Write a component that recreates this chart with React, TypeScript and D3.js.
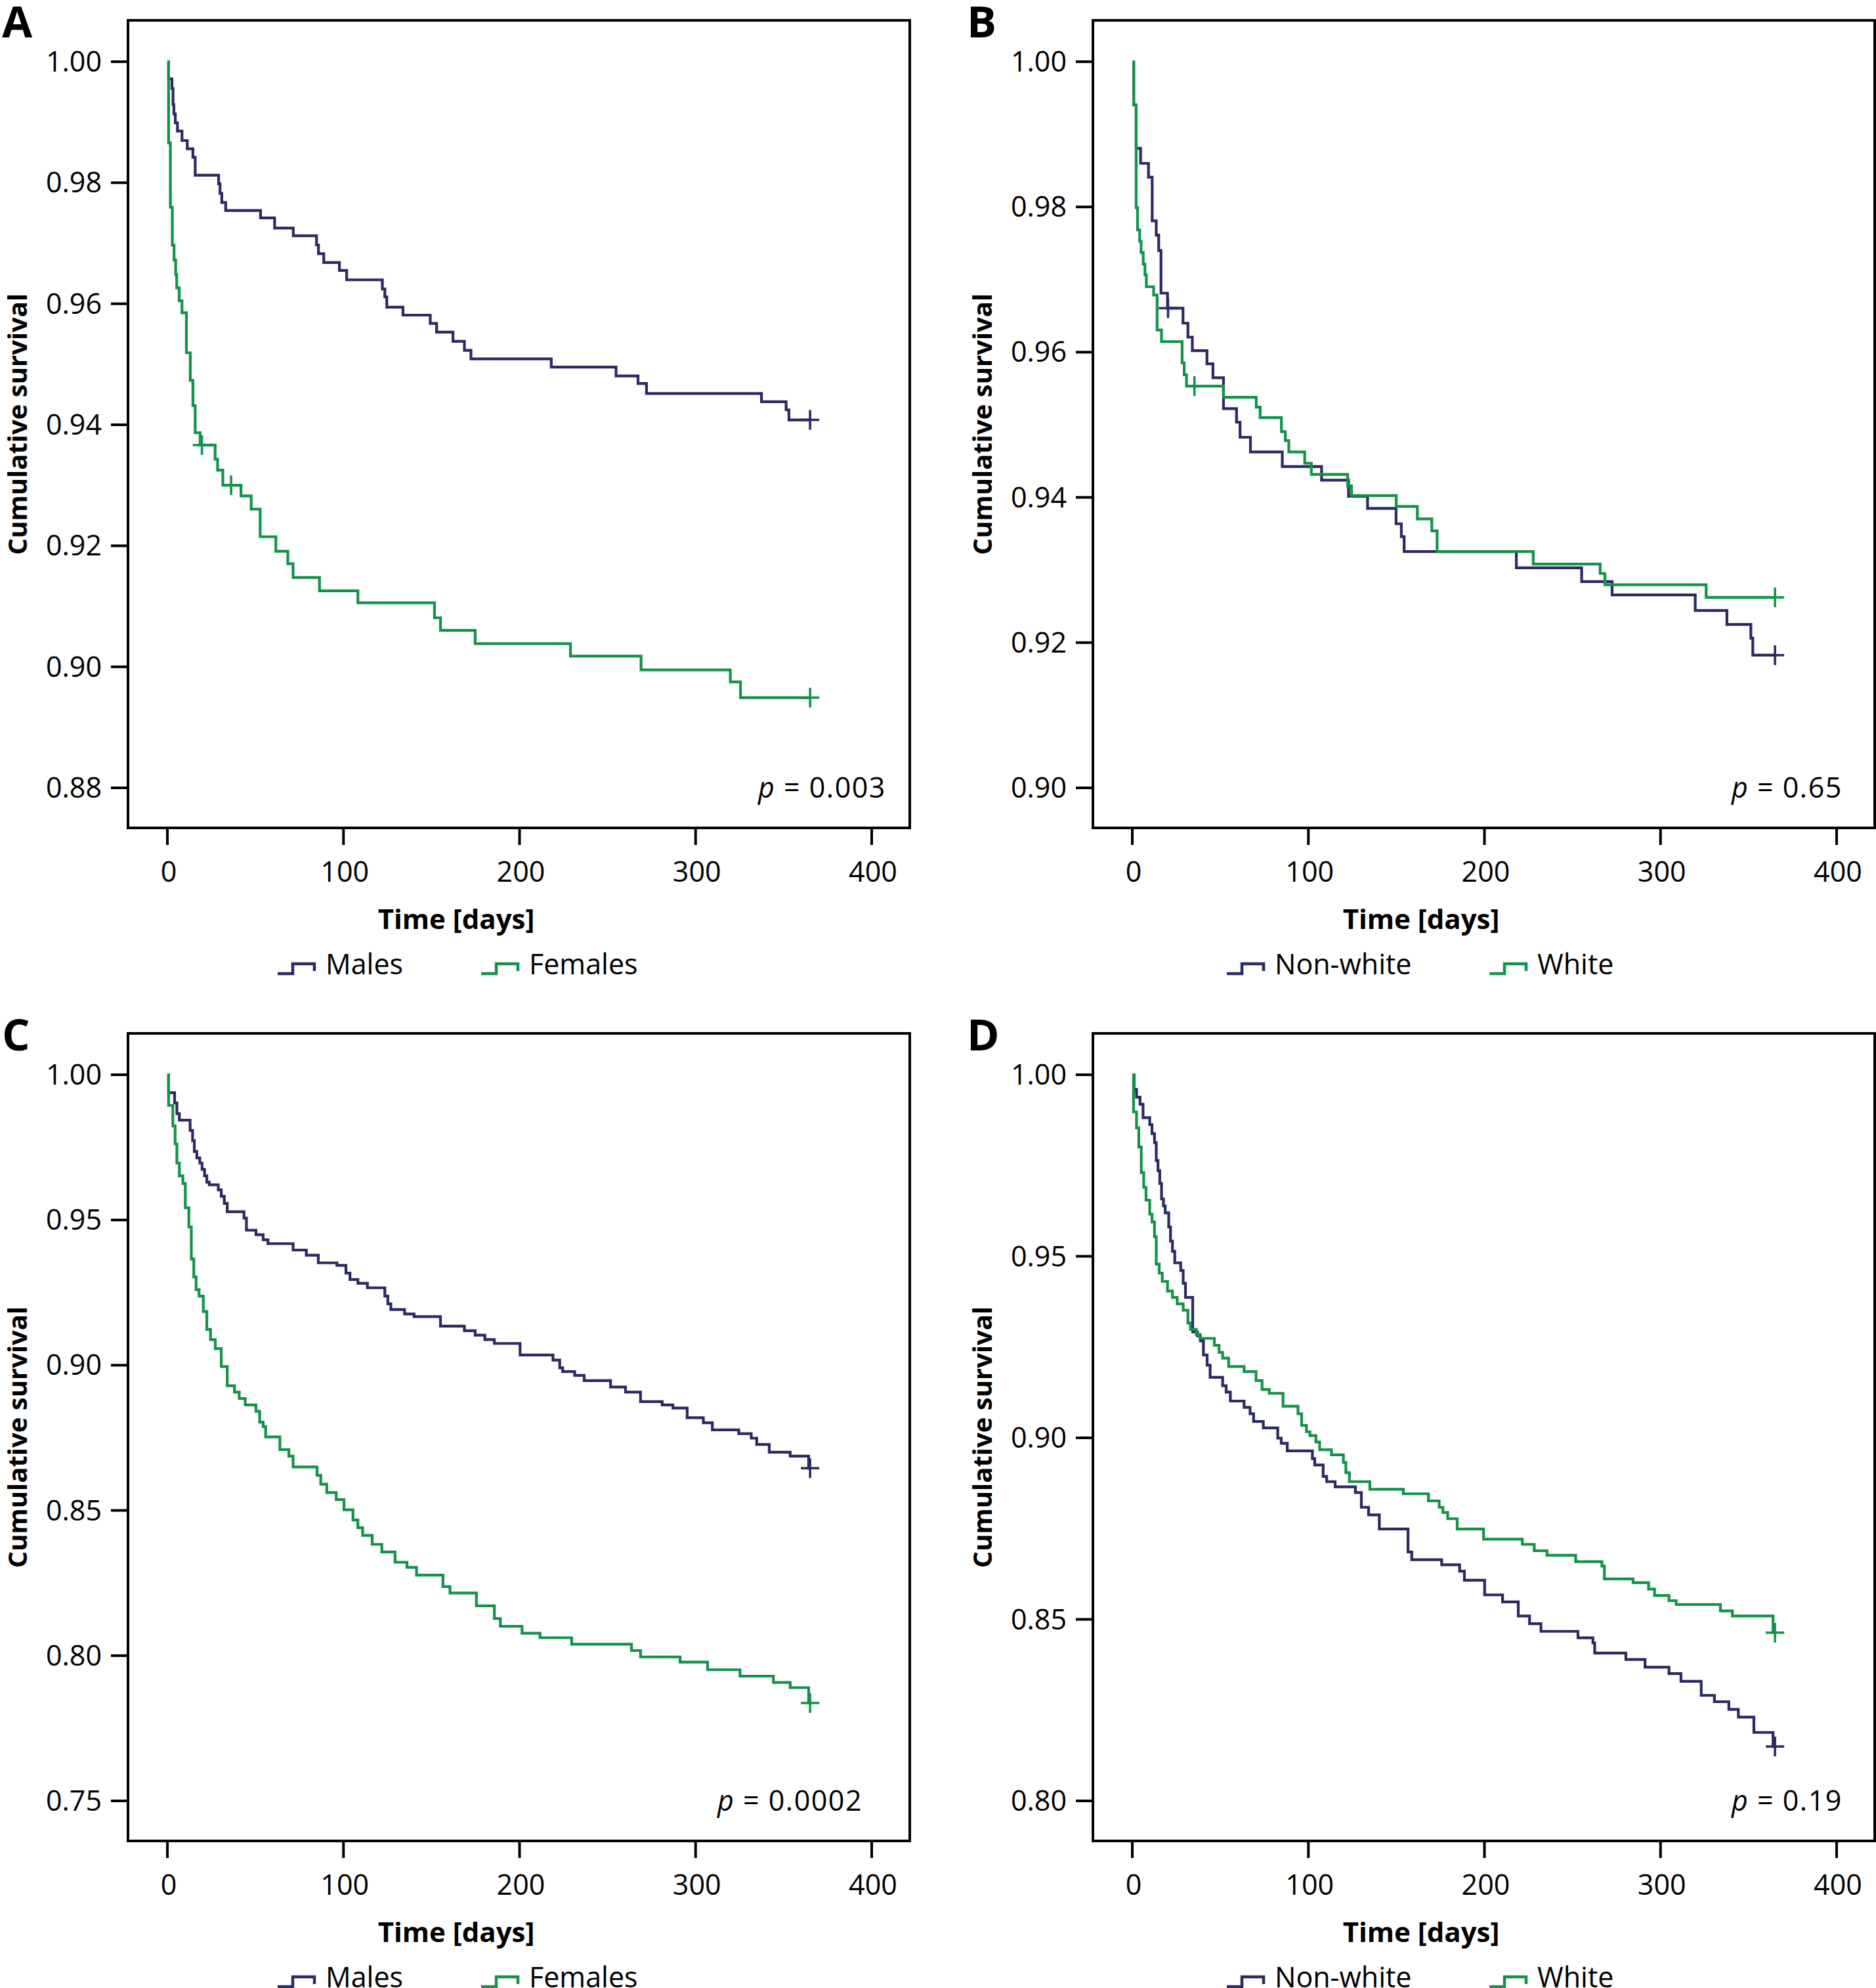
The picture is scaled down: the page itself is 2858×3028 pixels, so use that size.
import React from "react";
import * as d3 from "d3";

type Pt = [number, number];

// ---------- tick values ----------
const xTickValues = [0, 100, 200, 300, 400];
const yTicksA = [0.88, 0.9, 0.92, 0.94, 0.96, 0.98, 1.0];
const yTicksB = [0.9, 0.92, 0.94, 0.96, 0.98, 1.0];
const yTicksC = [0.75, 0.8, 0.85, 0.9, 0.95, 1.0];
const yTicksD = [0.8, 0.85, 0.9, 0.95, 1.0];

// ---------- labels ----------
const panelLetters = ["A", "B", "C", "D"];
const pValues = ["0.003", "0.65", "0.0002", "0.19"];
const sexLabels = ["Males", "Females"];
const raceLabels = ["Non-white", "White"];
const followUpEnd = 365;

// ---------- Panel A: sex (first cohort) ----------
const aMales: Pt[] = [
  [0, 1], [0.7, 0.99718], [2.6, 0.99558], [3.2, 0.99291], [3.7, 0.99135], [4.5, 0.9899],
  [5.7, 0.98854], [8.3, 0.98698], [11.3, 0.98562], [14.5, 0.98421], [15.8, 0.98125],
  [29.1, 0.97984], [29.9, 0.97824], [30.9, 0.97673], [33.1, 0.97542], [52.9, 0.9742],
  [60.9, 0.9725], [71.5, 0.97124], [84.7, 0.96973], [85.8, 0.96828], [88.8, 0.96682],
  [97.7, 0.96551], [101.8, 0.96395], [122.1, 0.96245], [123.5, 0.96114], [124.6, 0.95944],
  [133.8, 0.95812], [149.3, 0.95676], [152.9, 0.95531], [162.2, 0.9538], [168.7, 0.9523],
  [172.4, 0.95089], [218.0, 0.94953], [254.8, 0.94808], [267.3, 0.94683], [272.1, 0.94517],
  [337.4, 0.94382], [351.4, 0.94247], [353.0, 0.94081],
];
const aMalesCensor = [365];
const aFemales: Pt[] = [
  [0, 1], [0.7, 0.98659], [1.7, 0.97595], [2.8, 0.96969], [3.8, 0.96721], [4.7, 0.96483],
  [5.3, 0.96264], [6.7, 0.9605], [8.3, 0.95851], [10.8, 0.95191], [13.0, 0.94734],
  [14.5, 0.94316], [15.8, 0.93869], [18.6, 0.93665], [27.1, 0.93432], [28.5, 0.9325],
  [31.5, 0.93001], [41.8, 0.92825], [47.6, 0.92606], [52.7, 0.9215], [61.6, 0.91911],
  [68.4, 0.91703], [71.4, 0.91475], [86.4, 0.91256], [108.2, 0.91059], [151.7, 0.9081],
  [155.1, 0.90602], [174.8, 0.90384], [228.9, 0.90177], [269.0, 0.89948], [319.7, 0.89751],
  [325.5, 0.89491],
];
const aFemalesCensor = [19.6, 36.2, 365];

// ---------- Panel B: race (first cohort) ----------
const bNonWhite: Pt[] = [
  [0, 1], [0.8, 0.99404], [2.2, 0.98808], [4.7, 0.98601], [9.2, 0.98409], [11.3, 0.97808], [13.6, 0.97611],
  [15.0, 0.97399], [16.3, 0.96813], [20.0, 0.96606], [28.8, 0.96399], [31.6, 0.96207],
  [34.1, 0.9602], [42.4, 0.95839], [45.8, 0.95647], [51.8, 0.95222], [59.2, 0.95036],
  [61.2, 0.94828], [67.1, 0.94626], [85.2, 0.94424], [107.5, 0.94238], [122.8, 0.94015],
  [133.6, 0.93849], [149.8, 0.93637], [152.8, 0.9346], [154.4, 0.93253], [218.1, 0.9303],
  [255.2, 0.9284], [272.5, 0.92658], [319.7, 0.92442], [337.7, 0.92251], [351.3, 0.92061],
  [352.4, 0.91827],
];
const bNonWhiteCensor = [20.3, 365];
const bWhite: Pt[] = [
  [0, 1], [0.8, 0.99404], [2.2, 0.97989], [3.0, 0.97684], [4.2, 0.97528], [5.0, 0.97373],
  [6.2, 0.97212], [7.2, 0.97062], [8.0, 0.96901], [12.1, 0.96787], [14.1, 0.96305],
  [16.6, 0.96145], [28.3, 0.95854], [29.5, 0.95689], [30.8, 0.95533], [51.8, 0.95378],
  [70.4, 0.95243], [72.6, 0.95098], [84.7, 0.94906], [86.9, 0.94782], [88.9, 0.94626],
  [97.9, 0.94471], [101.7, 0.94316], [122.3, 0.9416], [124.5, 0.94025], [149.9, 0.93875],
  [161.9, 0.93704], [170.1, 0.93538], [173.1, 0.93253], [227.7, 0.93082], [265.7, 0.92952],
  [268.4, 0.92797], [325.9, 0.92623],
];
const bWhiteCensor = [35.3, 365];

// ---------- Panel C: sex (second cohort) ----------
const cMales: Pt[] = [
  [0, 1], [0.7, 0.99383], [4.1, 0.99031], [5.4, 0.98656], [6.8, 0.98436], [12.9, 0.98084],
  [14.3, 0.97731], [15.3, 0.97357], [16.7, 0.97137], [18.4, 0.9696], [19.7, 0.9674],
  [21.1, 0.9652], [22.4, 0.963], [23.8, 0.96211], [28.9, 0.96035], [30.6, 0.95815],
  [32.3, 0.95573], [34.0, 0.95286], [43.5, 0.95066], [44.9, 0.94648], [50.3, 0.94493],
  [54.4, 0.94317], [57.1, 0.94185], [71.4, 0.93965], [78.9, 0.93789], [85.7, 0.93524],
  [96.3, 0.93436], [101.4, 0.93172], [103.7, 0.92952], [108.2, 0.92819], [113.6, 0.92665],
  [123.5, 0.92379], [125.2, 0.92115], [126.9, 0.91916], [134.7, 0.91762], [140.1, 0.91674],
  [155.1, 0.91344], [168.7, 0.91189], [174.8, 0.91035], [180.3, 0.90881], [185.7, 0.90749],
  [200.3, 0.90352], [219.0, 0.90176], [222.8, 0.89912], [224.5, 0.8978], [231.3, 0.89648],
  [236.7, 0.89471], [251.7, 0.89251], [260.2, 0.89075], [268.7, 0.88744], [281.0, 0.88634],
  [287.1, 0.88524], [295.2, 0.88194], [304.4, 0.88018], [309.5, 0.87775], [324.5, 0.87643],
  [331.6, 0.87489], [334.7, 0.87269], [341.8, 0.87004], [353.7, 0.86872], [364.2, 0.86454],
];
const cMalesCensor = [365];
const cFemales: Pt[] = [
  [0, 1], [0.7, 0.98943], [3.1, 0.98238], [4.4, 0.97621], [5.4, 0.9696], [6.8, 0.9652],
  [8.8, 0.96256], [10.2, 0.95419], [12.2, 0.94758], [13.6, 0.93656], [15.0, 0.9304],
  [16.3, 0.92599], [18.0, 0.92379], [20.4, 0.9185], [22.4, 0.91233], [24.5, 0.90881],
  [27.2, 0.90573], [30.6, 0.89956], [34.0, 0.89295], [38.1, 0.89075], [40.8, 0.88855],
  [44.2, 0.88634], [50.3, 0.88414], [52.4, 0.8804], [54.4, 0.87885], [55.8, 0.87533],
  [63.9, 0.87093], [69.0, 0.86872], [71.4, 0.86498], [85.0, 0.86211], [87.1, 0.85903],
  [90.5, 0.85617], [95.9, 0.85374], [100.3, 0.85022], [105.4, 0.8467], [108.2, 0.84405],
  [110.9, 0.84141], [116.3, 0.83833], [121.8, 0.83568], [129.3, 0.83216], [136.1, 0.8304],
  [141.5, 0.82775], [156.5, 0.82379], [160.5, 0.82159], [175.5, 0.81718], [185.7, 0.81278],
  [189.1, 0.81013], [201.4, 0.80771], [211.6, 0.80617], [229.6, 0.80396], [263.6, 0.80176],
  [268.7, 0.79956], [291.2, 0.7978], [306.8, 0.79515], [325.2, 0.79295], [344.2, 0.79075],
  [353.7, 0.78899], [364.2, 0.7837],
];
const cFemalesCensor = [365];

// ---------- Panel D: race (second cohort) ----------
const dNonWhite: Pt[] = [
  [0, 1], [1.0, 0.99595], [2.4, 0.99383], [4.4, 0.99189], [6.1, 0.98819], [9.9, 0.98626],
  [11.2, 0.98379], [12.6, 0.98132], [13.6, 0.97639], [14.6, 0.97357], [15.6, 0.97004],
  [16.6, 0.96581], [17.7, 0.96388], [18.7, 0.96194], [20.7, 0.95806], [21.7, 0.95419],
  [22.8, 0.95137], [24.1, 0.94819], [27.5, 0.94608], [28.9, 0.94256], [30.2, 0.93868],
  [34.3, 0.92916], [37.0, 0.92811], [38.7, 0.9267], [40.4, 0.92282], [42.5, 0.92],
  [44.2, 0.91665], [51.3, 0.91436], [53.3, 0.9126], [55.7, 0.91013], [63.5, 0.90837],
  [66.9, 0.90661], [68.9, 0.90449], [74.4, 0.90273], [82.6, 0.89991], [84.6, 0.8985],
  [88.0, 0.89639], [102.3, 0.89427], [103.6, 0.89251], [108.4, 0.88934], [110.4, 0.88793],
  [115.2, 0.88652], [126.7, 0.88493], [130.1, 0.88088], [134.2, 0.87877], [140.3, 0.87489],
  [156.6, 0.86855], [158.7, 0.86643], [175.7, 0.86502], [185.9, 0.86326], [188.6, 0.86079],
  [200.1, 0.85674], [210.3, 0.8548], [219.2, 0.85092], [225.6, 0.84881], [232.1, 0.8467],
  [253.1, 0.84493], [261.6, 0.84352], [262.6, 0.8407], [280.3, 0.83894], [291.2, 0.83683],
  [304.8, 0.83507], [311.6, 0.83295], [323.1, 0.82907], [330.6, 0.82731], [338.8, 0.8252],
  [344.2, 0.82308], [353.0, 0.81885], [363.9, 0.81498],
];
const dNonWhiteCensor = [365];
const dWhite: Pt[] = [
  [0, 1], [0.7, 0.98978], [2.4, 0.98537], [3.7, 0.98009], [5.1, 0.97304], [6.5, 0.96899],
  [7.8, 0.96546], [9.9, 0.96159], [11.2, 0.95947], [12.6, 0.95542], [13.6, 0.94784],
  [15.3, 0.94537], [17.0, 0.94308], [20.0, 0.94044], [22.8, 0.93868], [25.5, 0.93692],
  [28.9, 0.93515], [31.6, 0.93163], [33.0, 0.92987], [36.4, 0.92846], [38.4, 0.9274],
  [46.6, 0.92546], [49.3, 0.92352], [51.3, 0.92194], [54.7, 0.91965], [63.5, 0.91824],
  [70.3, 0.91577], [73.7, 0.9133], [77.8, 0.91225], [85.6, 0.90872], [94.1, 0.90661],
  [96.2, 0.90344], [98.9, 0.90167], [100.9, 0.90062], [104.3, 0.89885], [106.4, 0.89674],
  [113.1, 0.89533], [119.9, 0.89322], [121.3, 0.8904], [123.3, 0.88793], [134.9, 0.88581],
  [153.9, 0.88458], [168.2, 0.88264], [174.3, 0.88088], [176.4, 0.87947], [179.1, 0.87771],
  [184.5, 0.87489], [199.5, 0.87207], [221.5, 0.87066], [228.3, 0.8689], [235.5, 0.86767],
  [251.8, 0.8659], [266.7, 0.86467], [268.1, 0.86115], [284.4, 0.86009], [293.2, 0.85833],
  [296.6, 0.85656], [304.8, 0.85515], [308.9, 0.8541], [334.0, 0.85233], [340.8, 0.85092],
  [363.9, 0.84634],
];
const dWhiteCensor = [365];

// ---------- styling ----------
const NAVY = "#2b2a62";
const GREEN = "#14924a";
const FONT = "'Open Sans', 'Noto Sans', sans-serif";

// ---------- layout (pixels) ----------
const W = 2858;
const H = 3028;
const PANEL_DX = 1470;
const PANEL_DY = 1543;
const BOX = { left: 195, top: 31, right: 1386, bottom: 1261 };
const X_RANGE: [number, number] = [255, 1328];
const Y_RANGE: [number, number] = [1200, 94];
const TICK = 26;

interface Series {
  pts: Pt[];
  censor: number[];
  color: string;
}
interface PanelSpec {
  letter: string;
  yTicks: number[];
  series: Series[];
  labels: string[];
  p: string;
  pX: number;
  legendX: [number, number];
  col: number;
  row: number;
}

const panels: PanelSpec[] = [
  {
    letter: panelLetters[0], yTicks: yTicksA, labels: sexLabels, p: pValues[0], pX: 1155,
    legendX: [423, 733], col: 0, row: 0,
    series: [
      { pts: aMales, censor: aMalesCensor, color: NAVY },
      { pts: aFemales, censor: aFemalesCensor, color: GREEN },
    ],
  },
  {
    letter: panelLetters[1], yTicks: yTicksB, labels: raceLabels, p: pValues[1], pX: 1168,
    legendX: [399, 799], col: 1, row: 0,
    series: [
      { pts: bNonWhite, censor: bNonWhiteCensor, color: NAVY },
      { pts: bWhite, censor: bWhiteCensor, color: GREEN },
    ],
  },
  {
    letter: panelLetters[2], yTicks: yTicksC, labels: sexLabels, p: pValues[2], pX: 1093,
    legendX: [423, 733], col: 0, row: 1,
    series: [
      { pts: cMales, censor: cMalesCensor, color: NAVY },
      { pts: cFemales, censor: cFemalesCensor, color: GREEN },
    ],
  },
  {
    letter: panelLetters[3], yTicks: yTicksD, labels: raceLabels, p: pValues[3], pX: 1168,
    legendX: [399, 799], col: 1, row: 1,
    series: [
      { pts: dNonWhite, censor: dNonWhiteCensor, color: NAVY },
      { pts: dWhite, censor: dWhiteCensor, color: GREEN },
    ],
  },
];

function valueAt(pts: Pt[], t: number): number {
  let v = pts[0][1];
  for (const p of pts) {
    if (p[0] <= t) v = p[1];
  }
  return v;
}

function LegendSymbol({ x, y, color }: { x: number; y: number; color: string }) {
  const d = `M${x},${y} H${x + 23} V${y - 15} H${x + 56} V${y - 4}`;
  return <path d={d} fill="none" stroke={color} strokeWidth={4.5} />;
}

function Panel({ spec }: { spec: PanelSpec }) {
  const yMin = d3.min(spec.yTicks) as number;
  const yMax = d3.max(spec.yTicks) as number;
  const x = d3.scaleLinear().domain([0, 400]).range(X_RANGE);
  const y = d3.scaleLinear().domain([yMin, yMax]).range(Y_RANGE);
  const line = d3
    .line<Pt>()
    .x((d) => x(d[0]))
    .y((d) => y(d[1]))
    .curve(d3.curveStepAfter);
  const fmt = d3.format(".2f");
  const tx = spec.col * PANEL_DX;
  const ty = spec.row * PANEL_DY;
  const midY = (BOX.top + BOX.bottom) / 2;
  const legendBase = 1484;

  return (
    <g transform={`translate(${tx},${ty})`}>
      <text x={3} y={57} fontFamily={FONT} fontWeight={700} fontSize={67} fill="#000">
        {spec.letter}
      </text>

      {/* curves */}
      {spec.series.map((s, i) => {
        const last = s.pts[s.pts.length - 1];
        const pts: Pt[] = [...s.pts, [followUpEnd, last[1]]];
        return (
          <g key={i}>
            <path d={line(pts) || ""} fill="none" stroke={s.color} strokeWidth={4.2} />
            {s.censor.map((c, j) => {
              const cx = x(c);
              const cy = y(valueAt(s.pts, c));
              return (
                <g key={j} stroke={s.color} strokeWidth={3.6}>
                  <line x1={cx - 14} x2={cx + 14} y1={cy} y2={cy} />
                  <line x1={cx} x2={cx} y1={cy - 15} y2={cy + 15} />
                </g>
              );
            })}
          </g>
        );
      })}

      {/* frame */}
      <rect
        x={BOX.left}
        y={BOX.top}
        width={BOX.right - BOX.left}
        height={BOX.bottom - BOX.top}
        fill="none"
        stroke="#000"
        strokeWidth={4}
      />

      {/* y axis */}
      {spec.yTicks.map((v) => (
        <g key={v}>
          <line x1={BOX.left - TICK} x2={BOX.left} y1={y(v)} y2={y(v)} stroke="#000" strokeWidth={4} />
          <text
            x={155}
            y={y(v) + 15}
            textAnchor="end"
            fontFamily={FONT}
            fontSize={43}
            fill="#000"
          >
            {fmt(v)}
          </text>
        </g>
      ))}
      <text
        transform={`translate(41,${midY}) rotate(-90)`}
        textAnchor="middle"
        fontFamily={FONT}
        fontWeight={700}
        fontSize={40}
        fill="#000"
      >
        Cumulative survival
      </text>

      {/* x axis */}
      {xTickValues.map((v) => (
        <g key={v}>
          <line x1={x(v)} x2={x(v)} y1={BOX.bottom} y2={BOX.bottom + TICK} stroke="#000" strokeWidth={4} />
          <text x={x(v) + 2} y={1343} textAnchor="middle" fontFamily={FONT} fontSize={43} fill="#000">
            {v}
          </text>
        </g>
      ))}
      <text x={695} y={1415} textAnchor="middle" fontFamily={FONT} fontWeight={700} fontSize={42} fill="#000">
        Time [days]
      </text>

      {/* p value */}
      <text x={spec.pX} y={1215} fontFamily={FONT} fontSize={43} letterSpacing={1.5} fill="#000">
        <tspan fontStyle="italic">p</tspan>
        {` = ${spec.p}`}
      </text>

      {/* legend */}
      {spec.labels.map((lab, i) => (
        <g key={lab}>
          <LegendSymbol x={spec.legendX[i]} y={legendBase - 1} color={spec.series[i].color} />
          <text x={spec.legendX[i] + 73} y={legendBase} fontFamily={FONT} fontSize={43} fill="#000">
            {lab}
          </text>
        </g>
      ))}
    </g>
  );
}

export default function App() {
  return (
    <div style={{ position: "absolute", left: 0, top: 0, width: W, height: H, overflow: "hidden", background: "#fff" }}>
      <svg width={W} height={H} viewBox={`0 0 ${W} ${H}`} style={{ display: "block" }}>
        <rect x={0} y={0} width={W} height={H} fill="#fff" />
        {panels.map((p) => (
          <Panel key={p.letter} spec={p} />
        ))}
      </svg>
    </div>
  );
}
